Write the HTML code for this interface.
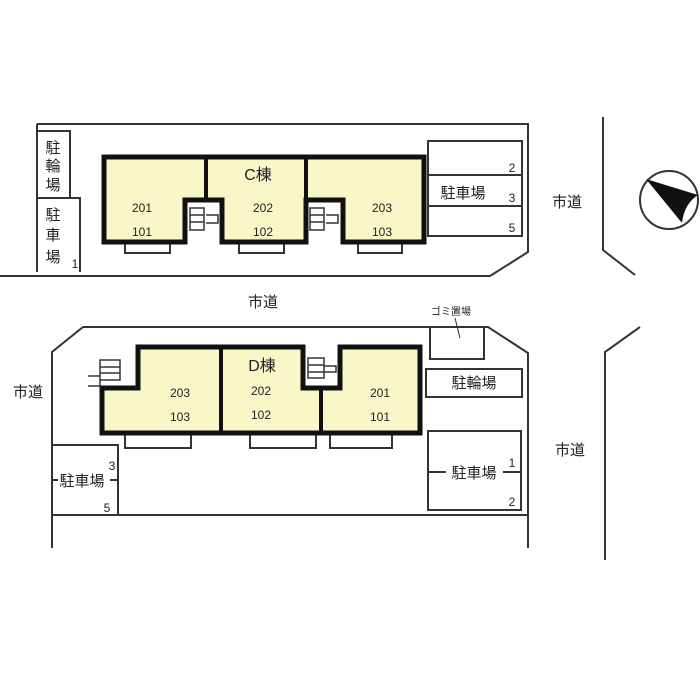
<html><body style="margin:0;background:#fff">
<svg width="700" height="700" viewBox="0 0 700 700" xmlns="http://www.w3.org/2000/svg" style="font-family:'Liberation Sans','Noto Sans CJK JP',sans-serif">
<g fill="none" stroke="#333" stroke-width="2">
<path d="M37,124 H528 V252 L490,276 H0"/>
<path d="M603,117 V250 L635,275"/>
<path d="M640,327 L605,352 V560"/>
<path d="M83,327 H488 L528,353 V548"/>
<path d="M83,327 L52,352 V548"/>
<path d="M52,515 H528"/>
<path d="M37,131 H70 V198 M37,198 H80 V272 M37,124 V272"/>
<rect x="428" y="141" width="94" height="95"/>
<path d="M428,175 H522 M428,206 H522"/>
<rect x="52" y="445" width="66" height="70"/>
<rect x="430" y="327" width="54" height="32"/>
<rect x="426" y="369" width="96" height="28"/>
<rect x="428" y="431" width="93" height="79"/>
<path d="M428,472 H446 M503,472 H521 M52,480 H58 M110,480 H118"/>
<path d="M455,318 L460,338" stroke-width="1"/>
<rect x="125" y="242" width="45" height="11"/><rect x="239" y="242" width="45" height="11"/><rect x="358" y="242" width="44" height="11"/>
<rect x="125" y="433" width="66" height="15"/><rect x="250" y="433" width="66" height="15"/><rect x="330" y="433" width="62" height="15"/>
<circle cx="669" cy="200" r="29"/>
</g>
<path d="M646,179 L698,195 Q684,204 682,223 Z" fill="#111"/>
<g fill="#f7f7c8" stroke="#111" stroke-width="5">
<path d="M104,157 H424 V242 H343 V200 H306 V242 H222 V200 H185 V242 H104 Z"/>
<path d="M138,347 H303 V388 H340 V347 H420 V433 H102 V388 H138 Z"/>
</g>
<path d="M206,157 V200 M306,157 V200 M221,347 V433 M321,388 V433" stroke="#111" stroke-width="4"/>
<g stroke="#333" stroke-width="1.5" fill="none">
<path d="M190,208 h14 v22 h-14 z M190,215 h14 M190,222 h14 M206,215 h12 v8 h-12"/>
<path d="M310,208 h14 v22 h-14 z M310,215 h14 M310,222 h14 M326,215 h12 v8 h-12"/>
<path d="M100,360 h20 v20 h-20 z M100,367 h20 M100,373 h20 M88,376 h12 v10 h-12"/>
<path d="M308,358 h16 v20 h-16 z M308,365 h16 M308,372 h16 M324,366 h12 v6 h-12"/>
</g>
<g fill="#222" font-size="12" text-anchor="middle">
<text x="142" y="212">201</text><text x="142" y="236">101</text>
<text x="263" y="212">202</text><text x="263" y="236">102</text>
<text x="382" y="212">203</text><text x="382" y="236">103</text>
<text x="180" y="397">203</text><text x="180" y="421">103</text>
<text x="261" y="395">202</text><text x="261" y="419">102</text>
<text x="380" y="397">201</text><text x="380" y="421">101</text>
<text x="512" y="172">2</text><text x="512" y="202">3</text><text x="512" y="232">5</text>
<text x="112" y="470">3</text><text x="107" y="512">5</text>
<text x="512" y="467">1</text><text x="512" y="506">2</text>
<text x="75" y="268">1</text>
</g>
<g fill="#222" font-size="15" text-anchor="middle">
<text x="258" y="180" font-size="16">C棟</text>
<text x="262" y="371" font-size="16">D棟</text>
<text x="463" y="198">駐車場</text>
<text x="82" y="486">駐車場</text>
<text x="474" y="388">駐輪場</text>
<text x="474" y="478">駐車場</text>
<text x="263" y="307">市道</text>
<text x="567" y="207">市道</text>
<text x="28" y="397">市道</text>
<text x="570" y="455">市道</text>
<text x="53" y="153">駐</text><text x="53" y="171">輪</text><text x="53" y="190">場</text>
<text x="53" y="220">駐</text><text x="53" y="240">車</text><text x="53" y="262">場</text>
<text x="451" y="315" font-size="10">ゴミ置場</text>
</g>
</svg>
</body></html>
